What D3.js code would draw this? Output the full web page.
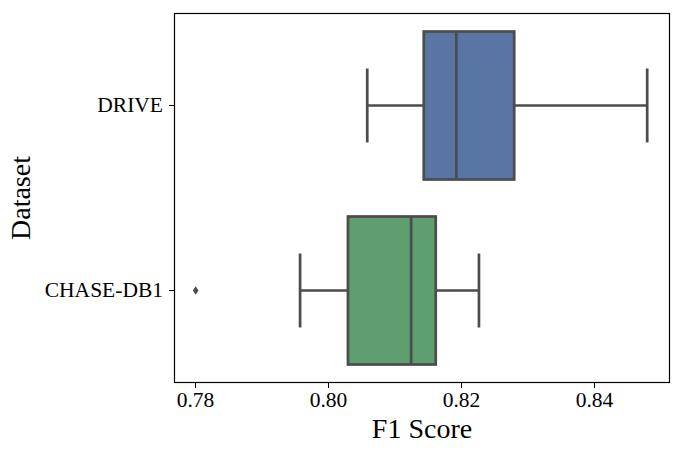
<!DOCTYPE html>
<html>
<head>
<meta charset="utf-8">
<script src="https://cdn.jsdelivr.net/npm/d3@7"></script>
<style>
  body { margin: 0; background: #fff; }
  text { font-family: "Liberation Serif", "DejaVu Serif", serif; }
</style>
</head>
<body>
<div id="canvas"></div>
<script>
// box statistics
var datasets = ["DRIVE", "CHASE-DB1"];
var whiskerLow = [0.8059, 0.7958];
var q1 = [0.8144, 0.8030];
var median = [0.8193, 0.8125];
var q3 = [0.8280, 0.8162];
var whiskerHigh = [0.8480, 0.8227];
var outliers = [[], [0.7801]];
var colors = ["#5875a4", "#5f9e6e"];
var xTicks = [0.78, 0.80, 0.82, 0.84];

const width = 683, height = 454;
const margin = {top: 13, right: 13, bottom: 71, left: 174};
const lineColor = "#4c4c4c";
const lw = 2.7;

const svg = d3.select("#canvas")
  .append("svg")
    .attr("width", width)
    .attr("height", height);

const x = d3.scaleLinear()
    .domain([0.77684, 0.85143])
    .range([margin.left, width - margin.right]);

const y = d3.scaleBand()
    .domain(datasets)
    .range([margin.top, height - margin.bottom])
    .padding(0);

const boxH = y.bandwidth() * 0.8;

const data = datasets.map(function(d, i) {
  return {name: d, lo: whiskerLow[i], q1: q1[i], med: median[i], q3: q3[i],
          hi: whiskerHigh[i], out: outliers[i], color: colors[i]};
});

const g = svg.append("g");

data.forEach(function(d) {
  var cy = y(d.name) + y.bandwidth() / 2;
  // whiskers
  g.append("line")
    .attr("x1", x(d.lo)).attr("x2", x(d.q1))
    .attr("y1", cy).attr("y2", cy)
    .attr("stroke", lineColor).attr("stroke-width", lw);
  g.append("line")
    .attr("x1", x(d.q3)).attr("x2", x(d.hi))
    .attr("y1", cy).attr("y2", cy)
    .attr("stroke", lineColor).attr("stroke-width", lw);
  // caps
  [d.lo, d.hi].forEach(function(v) {
    g.append("line")
      .attr("x1", x(v)).attr("x2", x(v))
      .attr("y1", cy - boxH / 4).attr("y2", cy + boxH / 4)
      .attr("stroke", lineColor).attr("stroke-width", lw);
  });
  // box
  g.append("rect")
    .attr("x", x(d.q1))
    .attr("y", cy - boxH / 2)
    .attr("width", x(d.q3) - x(d.q1))
    .attr("height", boxH)
    .attr("fill", d.color)
    .attr("stroke", lineColor)
    .attr("stroke-width", lw);
  // median
  g.append("line")
    .attr("x1", x(d.med)).attr("x2", x(d.med))
    .attr("y1", cy - boxH / 2).attr("y2", cy + boxH / 2)
    .attr("stroke", lineColor).attr("stroke-width", lw);
  // fliers
  g.selectAll(null)
    .data(d.out)
    .enter()
    .append("path")
      .attr("d", function(v) {
        var px = x(v);
        return "M" + px + "," + (cy - 4.2) + "L" + (px + 2.8) + "," + cy +
               "L" + px + "," + (cy + 4.2) + "L" + (px - 2.8) + "," + cy + "Z";
      })
      .attr("fill", lineColor);
});

// axes
const xAxis = svg.append("g")
    .attr("transform", "translate(0," + (height - margin.bottom) + ")")
    .call(d3.axisBottom(x).tickValues(xTicks).tickFormat(d3.format(".2f")).tickSize(5).tickPadding(4));

const yAxis = svg.append("g")
    .attr("transform", "translate(" + margin.left + ",0)")
    .call(d3.axisLeft(y).tickSize(5).tickPadding(6));

[xAxis, yAxis].forEach(function(a) {
  a.select(".domain").remove();
  a.selectAll("line").attr("stroke", "#000").attr("stroke-width", 1);
  a.selectAll("text").attr("fill", "#000").style("font-size", "21.5px")
    .style("font-family", "'Liberation Serif', serif");
});

// frame
svg.append("rect")
  .attr("x", margin.left + 0.5)
  .attr("y", margin.top + 0.5)
  .attr("width", width - margin.left - margin.right - 1)
  .attr("height", height - margin.top - margin.bottom - 1)
  .attr("fill", "none")
  .attr("stroke", "#000")
  .attr("stroke-width", 1.2);

// axis labels
svg.append("text")
  .attr("x", (margin.left + width - margin.right) / 2)
  .attr("y", 438)
  .attr("text-anchor", "middle")
  .style("font-size", "28px")
  .text("F1 Score");

svg.append("text")
  .attr("transform", "translate(30," + (margin.top + (height - margin.top - margin.bottom) / 2) + ") rotate(-90)")
  .attr("text-anchor", "middle")
  .style("font-size", "28px")
  .text("Dataset");
</script>
</body>
</html>
